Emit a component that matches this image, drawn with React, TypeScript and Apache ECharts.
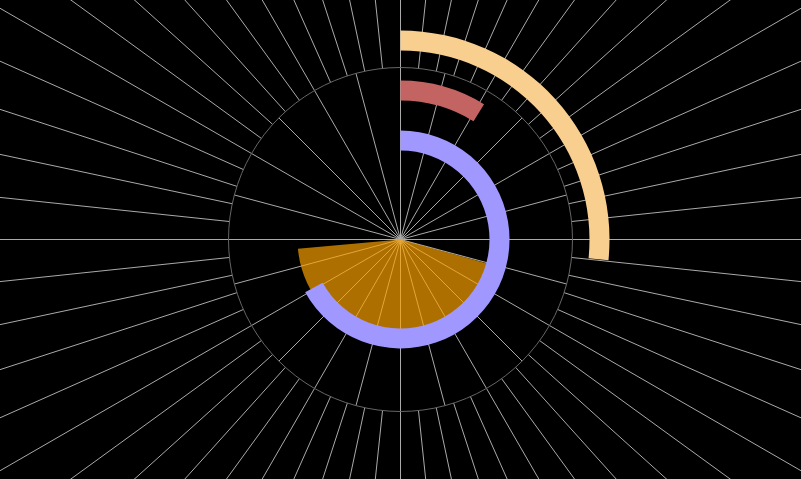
import React, { useEffect, useRef } from "react";
import * as echarts from "echarts";

// Radial bars (inner to outer ring): sweep in degrees, clockwise from 12 o'clock
const ringCategories = ["inner", "middle", "outer"];
const ringValues = [241, 31.7, 95.7];
const ringColors = ["#a098ff", "#c46462", "#f9cf90"];

// Orange sector (pie): start angle and sweep, remainder transparent
const sectorStartAngle = -15.5;
const sectorNames = ["filled", "rest"];
const sectorValues = [159.3, 200.7];

export default function App() {
  const ref = useRef<HTMLDivElement>(null);

  useEffect(() => {
    if (!ref.current) return;
    const chart = echarts.init(ref.current, undefined, { renderer: "svg" });
    const option: any = {
      animation: false,
      backgroundColor: "#000",
      polar: [
        { center: ["50%", "50%"], radius: 172 },
        { center: ["50%", "50%"], radius: [172, 900] },
        { center: ["50%", "50%"], radius: [74, 224] },
      ],
      angleAxis: [
        {
          polarIndex: 0,
          type: "value",
          min: 0,
          max: 360,
          interval: 15,
          startAngle: 90,
          clockwise: true,
          axisLine: { show: true, lineStyle: { color: "#666", width: 1 } },
          axisTick: { show: false },
          axisLabel: { show: false },
          splitLine: { show: true, lineStyle: { color: "#aaa", width: 1 } },
        },
        {
          polarIndex: 1,
          type: "value",
          min: 0,
          max: 360,
          interval: 6,
          startAngle: 90,
          clockwise: true,
          axisLine: { show: false },
          axisTick: { show: false },
          axisLabel: { show: false },
          splitLine: { show: true, lineStyle: { color: "#aaa", width: 1 } },
        },
        {
          polarIndex: 2,
          type: "value",
          min: 0,
          max: 360,
          startAngle: 90,
          clockwise: true,
          show: false,
        },
      ],
      radiusAxis: [
        { polarIndex: 0, type: "value", show: false },
        { polarIndex: 1, type: "value", show: false },
        { polarIndex: 2, type: "category", data: ringCategories, show: false },
      ],
      series: [
        {
          type: "pie",
          z: 1,
          center: ["50%", "50%"],
          radius: [0, 103],
          startAngle: sectorStartAngle,
          clockwise: true,
          silent: true,
          label: { show: false },
          labelLine: { show: false },
          itemStyle: { borderWidth: 0 },
          data: sectorNames.map((n, i) => ({
            name: n,
            value: sectorValues[i],
            itemStyle: {
              color: i === 0 ? "rgba(255,165,0,0.68)" : "rgba(0,0,0,0)",
              borderWidth: 0,
            },
          })),
        },
        {
          type: "bar",
          z: 5,
          coordinateSystem: "polar",
          polarIndex: 2,
          barWidth: 20,
          silent: true,
          data: ringValues.map((v, i) => ({
            value: v,
            itemStyle: { color: ringColors[i] },
          })),
        },
      ],
    };
    chart.setOption(option);
    return () => chart.dispose();
  }, []);

  return (
    <div
      ref={ref}
      style={{
        position: "fixed",
        left: 0,
        top: 0,
        width: 801,
        height: 479,
        background: "#000",
      }}
    />
  );
}
